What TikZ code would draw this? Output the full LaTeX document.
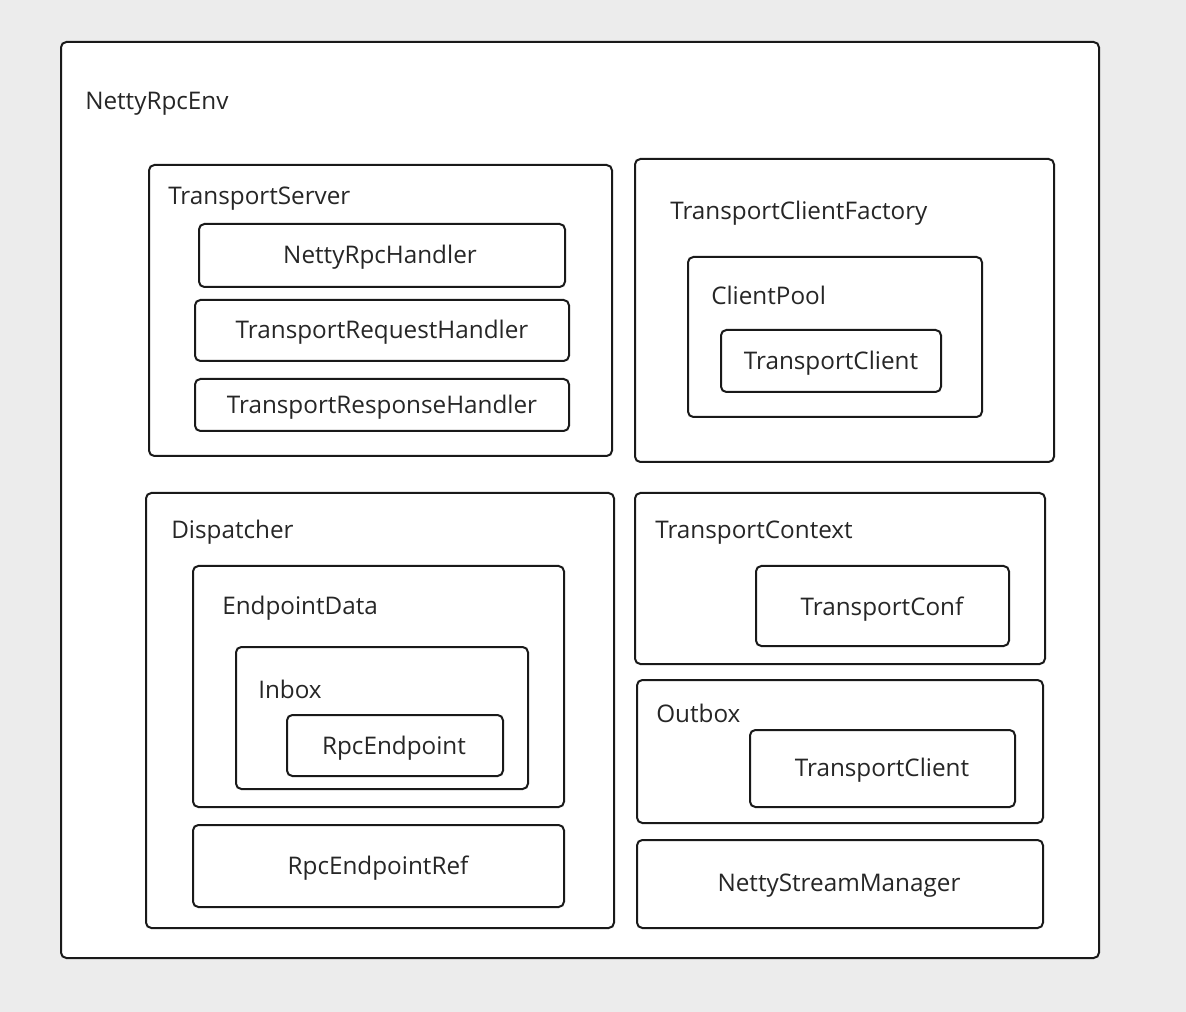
\documentclass[tikz,border=0pt]{standalone}
\usepackage{fontspec}
\setmainfont{Open Sans}
\begin{document}
\begin{tikzpicture}[x=0.75pt,y=-0.75pt,
  box/.style={draw=black!90,line width=1.5pt,rounded corners=4pt,fill=white},
  lbl/.style={anchor=west,inner sep=0pt,yshift=-2pt,font=\fontsize{18.2}{20}\selectfont,text=black!85},
  ctr/.style={inner sep=0pt,yshift=-2pt,font=\fontsize{18.2}{20}\selectfont,text=black!85}]
\useasboundingbox (0,0) rectangle (1186,1012);
\fill[gray!15] (0,0) rectangle (1186,1012);
% outer
\draw[box] (61,42) rectangle (1099,958);
\node[lbl] (env) at (85,101) {NettyRpcEnv};
% TransportServer
\draw[box] (149,165) rectangle (612,456);
\node[lbl] (ts) at (168,196) {TransportServer};
\draw[box] (199,224) rectangle (565,287);
\node[ctr] (nrh) at (380,255) {NettyRpcHandler};
\draw[box] (195,300) rectangle (569,361);
\node[ctr] (treq) at (382,330) {TransportRequestHandler};
\draw[box] (195,379) rectangle (569,431);
\node[ctr] (tresp) at (382,405) {TransportResponseHandler};
% TransportClientFactory
\draw[box] (635,159) rectangle (1054,462);
\node[lbl] (tcf) at (670,211) {TransportClientFactory};
\draw[box] (688,257) rectangle (982,417);
\node[lbl] (cp) at (711,293) {ClientPool};
\draw[box] (721,330) rectangle (941,392);
\node[ctr] (tc1) at (831,361) {TransportClient};
% Dispatcher
\draw[box] (146,493) rectangle (614,928);
\node[lbl] (disp) at (171,530) {Dispatcher};
\draw[box] (193,566) rectangle (564,807);
\node[lbl] (ed) at (222,606) {EndpointData};
\draw[box] (236,647) rectangle (528,789);
\node[lbl] (inbox) at (258,687) {Inbox};
\draw[box] (287,715) rectangle (503,776);
\node[ctr] (re) at (394,746) {RpcEndpoint};
\draw[box] (193,825) rectangle (564,907);
\node[ctr] (rer) at (378,865) {RpcEndpointRef};
% TransportContext
\draw[box] (635,493) rectangle (1045,664);
\node[lbl] (tctx) at (655,530) {TransportContext};
\draw[box] (756,566) rectangle (1009,646);
\node[ctr] (tconf) at (882,606) {TransportConf};
% Outbox
\draw[box] (637,680) rectangle (1043,823);
\node[lbl] (outbox) at (656,711) {Outbox};
\draw[box] (750,730) rectangle (1015,807);
\node[ctr] (tc2) at (882,768) {TransportClient};
% NettyStreamManager
\draw[box] (637,840) rectangle (1043,928);
\node[ctr] (nsm) at (839,883) {NettyStreamManager};
\end{tikzpicture}
\end{document}
